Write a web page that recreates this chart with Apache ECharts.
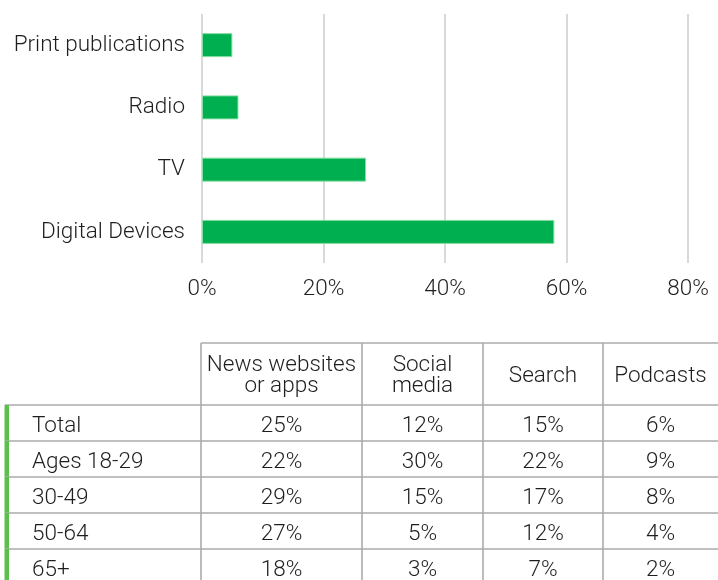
<!DOCTYPE html>
<html>
<head>
<meta charset="utf-8">
<script src="https://cdn.jsdelivr.net/npm/echarts@6/dist/echarts.min.js"></script>
<style>
  html, body { margin: 0; padding: 0; background: #ffffff; }
  #chart { width: 718px; height: 580px; }
</style>
</head>
<body>
<div id="chart"></div>
<script>
// Where people get news: bar chart of devices plus a breakdown table by age
const sources = ['Print publications', 'Radio', 'TV', 'Digital Devices'];
const sourceShares = [5, 6, 27, 58];
const axisTicks = [0, 20, 40, 60, 80];

const tableColumns = ['News websites\nor apps', 'Social\nmedia', 'Search', 'Podcasts'];
const tableRows = ['Total', 'Ages 18-29', '30-49', '50-64', '65+'];
const newsSites = [25, 22, 29, 27, 18];
const socialMedia = [12, 30, 15, 5, 3];
const searchShare = [15, 22, 17, 12, 7];
const podcasts = [6, 9, 8, 4, 2];

// Table layout (in table-grid units)
const colEdges = [0, 201, 362, 483, 603, 718];
const headerH = 62;
const rowH = 36;
const ruleColor = '#ababab';
const textColor = '#1e1e1e';
const font = 'Roboto, "Noto Sans", sans-serif';
const fontSize = 22.5;
const fontWeight = 300;

const columnValues = [newsSites, socialMedia, searchShare, podcasts];

// cells: [col, row, text, kind]
const cells = [];
tableColumns.forEach((c, ci) => cells.push([ci + 1, -1, c, 'head']));
tableRows.forEach((r, ri) => {
  cells.push([0, ri, r, 'label']);
  columnValues.forEach((vals, ci) => cells.push([ci + 1, ri, vals[ri] + '%', 'value']));
});

function rowTop(r) { return r < 0 ? 0 : headerH + r * rowH; }
function rowBottom(r) { return r < 0 ? headerH : headerH + (r + 1) * rowH; }

function renderCell(params, api) {
  const col = api.value(0);
  const row = api.value(1);
  const item = cells[params.dataIndex];
  const text = item[2];
  const kind = item[3];
  const p0 = api.coord([colEdges[col], rowTop(row)]);
  const p1 = api.coord([colEdges[col + 1], rowBottom(row)]);
  const children = [];
  const lineStyle = { stroke: ruleColor, lineWidth: 1.6 };
  // top rule
  const topStartX = kind === 'label' ? api.coord([5, 0])[0] : p0[0];
  children.push({ type: 'line', shape: { x1: topStartX, y1: p0[1], x2: p1[0], y2: p0[1] }, style: lineStyle });
  if (kind !== 'label') {
    children.push({ type: 'line', shape: { x1: p0[0], y1: p0[1], x2: p0[0], y2: p1[1] }, style: lineStyle });
  } else {
    // green accent bar down the row labels
    const gx = api.coord([4.5, 0])[0];
    children.push({ type: 'rect', shape: { x: gx, y: p0[1], width: 4.5, height: p1[1] - p0[1] }, style: { fill: '#5bbf4c' } });
  }
  const isLabel = kind === 'label';
  children.push({
    type: 'text',
    style: {
      text: text,
      x: isLabel ? p0[0] + 32 : (p0[0] + p1[0]) / 2,
      y: (p0[1] + p1[1]) / 2 + (kind === 'head' ? 2 : 3),
      align: isLabel ? 'left' : 'center',
      verticalAlign: 'middle',
      fill: textColor,
      font: fontWeight + ' ' + fontSize + 'px ' + font,
      lineHeight: 21
    }
  });
  return { type: 'group', children: children };
}

const chart = echarts.init(document.getElementById('chart'), null, { renderer: 'canvas' });
chart.setOption({
  animation: false,
  backgroundColor: '#ffffff',
  grid: [
    { left: 202, right: 30, top: 14, bottom: 317 },
    { left: 0, right: 0, top: 343, bottom: 0 }
  ],
  xAxis: [
    {
      gridIndex: 0,
      type: 'value',
      min: axisTicks[0],
      max: axisTicks[axisTicks.length - 1],
      interval: axisTicks[1] - axisTicks[0],
      axisLine: { show: false },
      axisTick: { show: false },
      splitLine: { show: true, lineStyle: { color: '#d9d9d9', width: 2 } },
      axisLabel: { formatter: '{value}%', color: textColor, fontSize: fontSize, fontWeight: fontWeight, fontFamily: font, margin: 15 }
    },
    { gridIndex: 1, type: 'value', min: 0, max: 718, show: false }
  ],
  yAxis: [
    {
      gridIndex: 0,
      type: 'category',
      inverse: true,
      data: sources,
      axisLine: { show: false },
      axisTick: { show: false },
      axisLabel: {
        color: textColor, fontSize: fontSize, fontWeight: fontWeight, fontFamily: font, margin: 17,
        padding: [4, 0, 0, 0]
      }
    },
    { gridIndex: 1, type: 'value', inverse: true, min: 0, max: 237, show: false }
  ],
  series: [
    {
      type: 'bar',
      xAxisIndex: 0,
      yAxisIndex: 0,
      data: sourceShares,
      barWidth: 24,
      itemStyle: { color: '#00b050', borderColor: '#86dca2', borderWidth: 1 }
    },
    {
      type: 'custom',
      xAxisIndex: 1,
      yAxisIndex: 1,
      data: cells.map(c => [c[0], c[1]]),
      renderItem: renderCell,
      clip: false,
      silent: true
    }
  ]
});
</script>
</body>
</html>
